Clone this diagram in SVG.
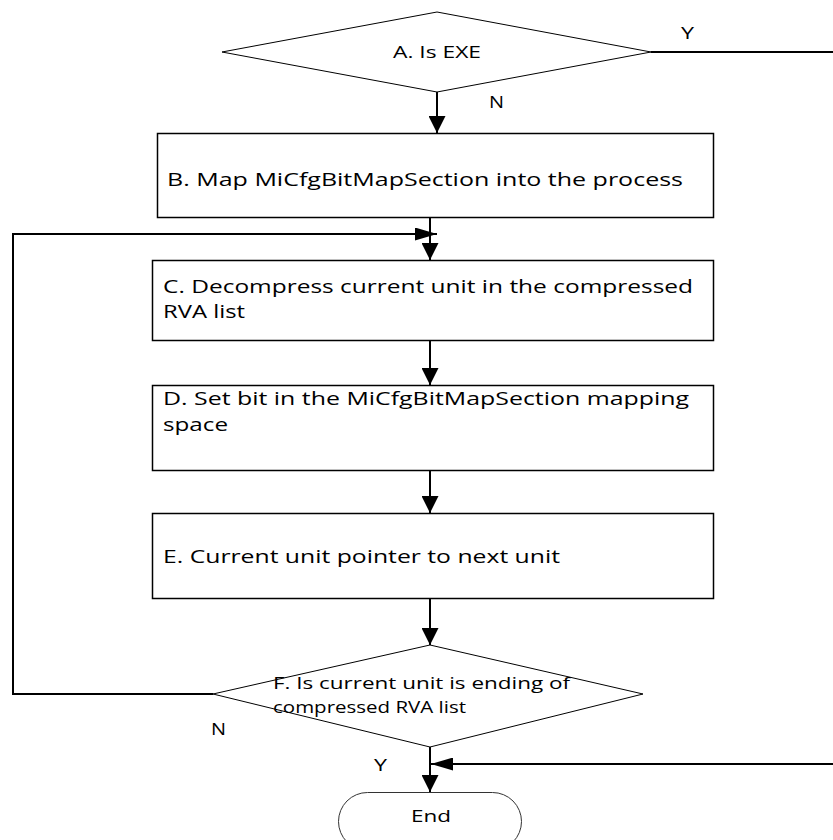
<svg xmlns="http://www.w3.org/2000/svg" width="833" height="840" viewBox="0 0 833 840">
<style>
.box{fill:#fff;stroke:#000;stroke-width:1.5}
.dia{fill:#fff;stroke:#000;stroke-width:1}
.t{font-family:"Open Sans","Noto Sans",sans-serif;font-size:18px;fill:#000}
.s{font-family:"Open Sans","Noto Sans",sans-serif;font-size:16px;fill:#000}
.f{font-family:"Open Sans","Noto Sans",sans-serif;font-size:17px;fill:#000}
.c{fill:none;stroke:#000;stroke-width:2}
</style>
<defs>
<marker id="av" markerWidth="17" markerHeight="17" refX="17" refY="8.5" orient="auto" markerUnits="userSpaceOnUse" viewBox="0 0 17 17">
<path d="M0,0 L17,8.5 L0,17 z" fill="#000"/>
</marker>
<marker id="ahz" markerWidth="22" markerHeight="13" refX="22" refY="6.5" orient="auto" markerUnits="userSpaceOnUse" viewBox="0 0 22 13">
<path d="M0,0 L22,6.5 L0,13 z" fill="#000"/>
</marker>
</defs>
<g id="connectors">
<path class="c" d="M437,92 V133" marker-end="url(#av)"/>
<path class="c" d="M430,218 V260" marker-end="url(#av)"/>
<path class="c" d="M430,340 V385" marker-end="url(#av)"/>
<path class="c" d="M430,470 V513" marker-end="url(#av)"/>
<path class="c" d="M430,598 V645" marker-end="url(#av)"/>
<path class="c" d="M430,747 V792" marker-end="url(#av)"/>
<path class="c" d="M213,694 H13 V234 H437" marker-end="url(#ahz)"/>
<path class="c" d="M651,52 H836 V764 H431" marker-end="url(#ahz)"/>
<text class="s" x="681" y="39" textLength="13" lengthAdjust="spacingAndGlyphs">Y</text>
<text class="s" x="489" y="108" textLength="15" lengthAdjust="spacingAndGlyphs">N</text>
<text class="s" x="211" y="735" textLength="15" lengthAdjust="spacingAndGlyphs">N</text>
<text class="s" x="374" y="771" textLength="13" lengthAdjust="spacingAndGlyphs">Y</text>
</g>
<g id="nodeA">
<polygon class="dia" points="437,12 651,52 437,92 222,52"/>
<text class="s" x="393" y="58" textLength="88" lengthAdjust="spacingAndGlyphs">A. Is EXE</text>
</g>
<g id="nodeB">
<rect class="box" x="157.5" y="133.5" width="556" height="84"/>
<text class="t" x="167" y="186" textLength="516" lengthAdjust="spacingAndGlyphs">B. Map MiCfgBitMapSection into the process</text>
</g>
<g id="nodeC">
<rect class="box" x="152.5" y="260.5" width="561" height="80"/>
<text class="t" x="163" y="293" textLength="530" lengthAdjust="spacingAndGlyphs">C. Decompress current unit in the compressed</text>
<text class="t" x="163" y="318" textLength="82" lengthAdjust="spacingAndGlyphs">RVA list</text>
</g>
<g id="nodeD">
<rect class="box" x="152.5" y="385.5" width="561" height="85"/>
<text class="t" x="163" y="405" textLength="526" lengthAdjust="spacingAndGlyphs">D. Set bit in the MiCfgBitMapSection mapping</text>
<text class="t" x="163" y="431" textLength="65" lengthAdjust="spacingAndGlyphs">space</text>
</g>
<g id="nodeE">
<rect class="box" x="152.5" y="513.5" width="561" height="85"/>
<text class="t" x="163" y="563" textLength="397" lengthAdjust="spacingAndGlyphs">E. Current unit pointer to next unit</text>
</g>
<g id="nodeF">
<polygon class="dia" points="430,645 643,694 430,747 213,694"/>
<text class="f" x="273" y="689" textLength="297" lengthAdjust="spacingAndGlyphs">F. Is current unit is ending of</text>
<text class="f" x="273" y="713" textLength="193" lengthAdjust="spacingAndGlyphs">compressed RVA list</text>
</g>
<g id="nodeEnd">
<rect x="338.5" y="792.5" width="183" height="58" rx="29" ry="29" fill="#fff" stroke="#333" stroke-width="1"/>
<text class="s" x="411" y="822" textLength="40" lengthAdjust="spacingAndGlyphs">End</text>
</g>
</svg>
